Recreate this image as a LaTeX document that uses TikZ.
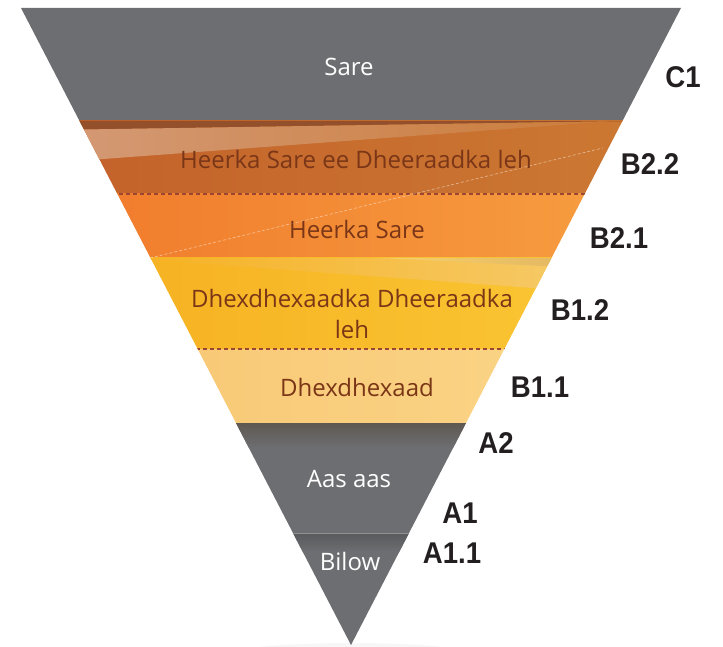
\documentclass[tikz,border=0pt]{standalone}
\usepackage{fontspec}
\setmainfont{Open Sans}
\newfontfamily\labelfont{Liberation Sans}[FakeStretch=0.92]
\definecolor{fgray}{HTML}{6D6E71}
\definecolor{b22l}{HTML}{C25F29}
\definecolor{b22r}{HTML}{CD7C34}
\definecolor{b22dark}{HTML}{94502B}
\definecolor{wedgeL}{HTML}{D59D7C}
\definecolor{wedgeR}{HTML}{CB7C3A}
\definecolor{b21l}{HTML}{EF7629}
\definecolor{b21r}{HTML}{F8A444}
\definecolor{b12l}{HTML}{F5AC1E}
\definecolor{b12r}{HTML}{FBCC38}
\definecolor{wedgeY}{HTML}{F6D27E}
\definecolor{tanC}{HTML}{D2A35E}
\definecolor{b11l}{HTML}{F7C470}
\definecolor{b11r}{HTML}{FBD98C}
\definecolor{dashc}{HTML}{9A4632}
\definecolor{txtbrown}{HTML}{7A3617}
\definecolor{lblack}{HTML}{231F20}
\definecolor{gtop}{HTML}{5E5851}
\begin{document}
\begin{tikzpicture}[x=1pt,y=-1pt,
  inner/.style={font=\fontsize{24}{31}\selectfont, text=txtbrown, anchor=base, inner sep=0pt},
  innerw/.style={inner, text=white},
  lvl/.style={font=\labelfont\bfseries\fontsize{30}{36}\selectfont, text=lblack, anchor=base, inner sep=0pt},
  sepline/.style={draw=dashc, line width=1.3pt, dash pattern=on 4pt off 3pt}]
\useasboundingbox (0,0) rectangle (723,647);
% faint floor shadow
\fill[black!3] (351,652) ellipse [x radius=110, y radius=9];
\begin{scope}
  \clip (21,8) -- (681,8) -- (351,645) -- cycle;
  % C1
  \fill[fgray] (0,0) rectangle (723,121);
  % B2.2
  \shade[left color=b22l, right color=b22r] (0,121) rectangle (723,194);
  \fill[b22dark] (0,121) -- (723,121) -- (610,121.3) -- (0,130.8) -- cycle;
  \shade[left color=wedgeL, right color=wedgeR] (0,130.8) -- (610,121.3) -- (0,166.7) -- cycle;
  % B2.1
  \shade[left color=b21l, right color=b21r] (0,194) rectangle (723,258);
  % B1.2
  \shade[left color=b12l, right color=b12r] (0,258) rectangle (723,349);
  \shade[left color=b12l!85!b12r, right color=wedgeY] (125,258) -- (723,258) -- (723,302) -- cycle;
  \shade[left color=wedgeY!70!b12r, right color=tanC] (380,258) -- (723,258) -- (723,275) -- cycle;
  % B1.1
  \shade[left color=b11l, right color=b11r] (0,349) rectangle (723,423);
  % A2 / A1 / A1.1
  \fill[fgray] (0,423) rectangle (723,646);
  \shade[top color=gtop, bottom color=fgray] (0,423) rectangle (723,447);
  \shade[top color=fgray!82!black, bottom color=fgray] (0,533.5) rectangle (723,552);
  \draw[fgray!75!white, line width=0.8pt] (0,533) -- (723,533);
  % separators
  \coordinate (s1l) at (0,194);  \coordinate (s1r) at (723,194);
  \coordinate (s2l) at (0,349);  \coordinate (s2r) at (723,349);
  \draw[sepline] (s1l) -- (s1r);
  \draw[sepline] (s2l) -- (s2r);
  % faint diagonal
  \coordinate (wl) at (150,258); \coordinate (wr) at (603,148);
  \draw[white, opacity=0.5, line width=0.6pt, dash pattern=on 3pt off 2pt] (wl) -- (wr);
\end{scope}
% inner texts
\node[innerw] (tc1) at (349,76) {Sare};
\node[inner] (tb22) at (356,169) {Heerka Sare ee Dheeraadka leh};
\node[inner] (tb21) at (357,239) {Heerka Sare};
\node[inner, anchor=center, align=center] (tb12) at (352,313.5) {Dhexdhexaadka Dheeraadka\\leh};
\node[inner] (tb11) at (357,396) {Dhexdhexaad};
\node[innerw] (ta2) at (349,487) {Aas aas};
\node[innerw] (ta11) at (350,570) {Bilow};
% level labels
\node[lvl] (lc1) at (683,88) {C1};
\node[lvl] (lb22) at (650,175) {B2.2};
\node[lvl] (lb21) at (619,249) {B2.1};
\node[lvl] (lb12) at (580,320) {B1.2};
\node[lvl] (lb11) at (540,397) {B1.1};
\node[lvl] (la2) at (496,453) {A2};
\node[lvl] (la1) at (460,523) {A1};
\node[lvl] (la11) at (452,563) {A1.1};
\end{tikzpicture}
\end{document}
